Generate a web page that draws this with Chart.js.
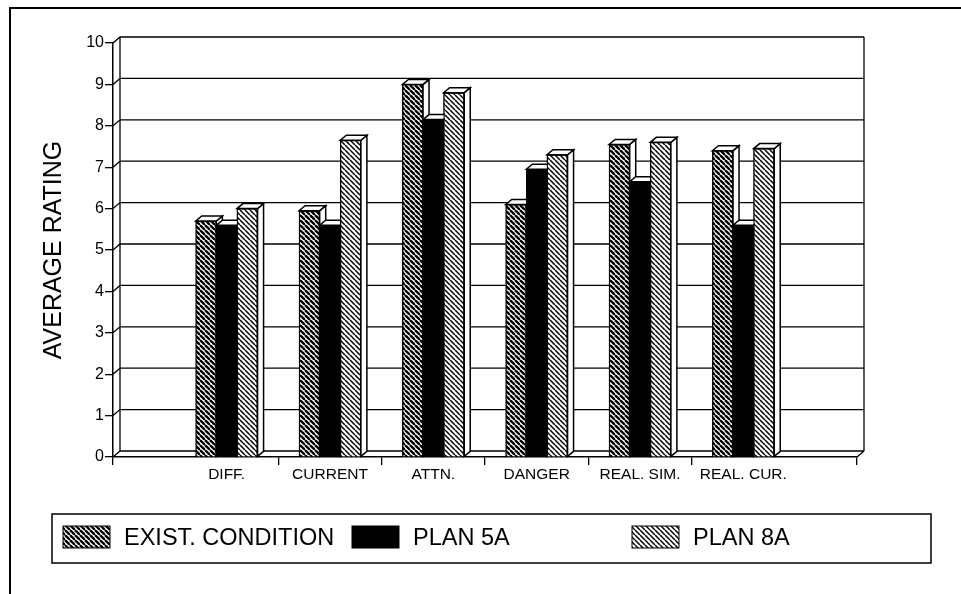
<!DOCTYPE html>
<html>
<head>
<meta charset="utf-8">
<script src="https://cdn.jsdelivr.net/npm/chart.js@4.4.1/dist/chart.umd.min.js"></script>
<style>
  html, body { margin: 0; padding: 0; background: #fff; }
  #wrap { position: relative; width: 961px; height: 594px; }
</style>
</head>
<body>
<div id="wrap"><canvas id="c" width="961" height="594"></canvas></div>
<script>
// Data (average rating per measure)
const categories = ['DIFF.', 'CURRENT', 'ATTN.', 'DANGER', 'REAL. SIM.', 'REAL. CUR.'];
const existCondition = [5.7, 5.95, 9.0, 6.1, 7.55, 7.4];
const plan5A = [5.6, 5.6, 8.15, 6.95, 6.65, 5.6];
const plan8A = [6.0, 7.65, 8.8, 7.3, 7.6, 7.45];
const seriesNames = ['EXIST. CONDITION', 'PLAN 5A', 'PLAN 8A'];
const yTicks = [0, 1, 2, 3, 4, 5, 6, 7, 8, 9, 10];

const INK = '#000';
const FONT = "'Liberation Sans', Arial, Helvetica, sans-serif";
const WALL = { dx: 7, dy: 6 };     // back-wall offset of the fake 3D box
const BAR = { dx: 6, dy: 5 };      // depth of each bar

// diagonal "\" hatching tile
function hatch(lineW, period = 5) {
  const t = document.createElement('canvas');
  t.width = period; t.height = period;
  const c = t.getContext('2d');
  c.fillStyle = '#fff'; c.fillRect(0, 0, period, period);
  c.strokeStyle = '#000'; c.lineWidth = lineW;
  for (let k = -1; k <= 1; k++) {
    c.beginPath(); c.moveTo(k * period, 0); c.lineTo(k * period + period, period); c.stroke();
  }
  return document.getElementById('c').getContext('2d').createPattern(t, 'repeat');
}
const fills = [hatch(2.3), '#000', hatch(1.5)];

// tick positions on the x axis: the outer box edges plus the gaps between groups
const X_MIN = -1.1, X_MAX = 6.1;
const xTickMarks = [X_MIN, 0.5, 1.5, 2.5, 3.5, 4.5, X_MAX];

const toPts = arr => arr.map((v, i) => ({ x: i, y: v }));

// ── back wall, floor and grid drawn in pseudo 3D ─────────────────────────────
const wallPlugin = {
  id: 'wall',
  beforeDatasetsDraw(chart) {
    const { ctx, chartArea: a, scales: { y } } = chart;
    ctx.save();
    // outer frame of the figure (top and left edges only, like the scan)
    ctx.strokeStyle = INK; ctx.lineWidth = 2;
    ctx.beginPath(); ctx.moveTo(961, 8); ctx.lineTo(10, 8); ctx.lineTo(10, 594); ctx.stroke();

    ctx.lineWidth = 1.3;
    const top = y.getPixelForValue(10) - WALL.dy, bot = y.getPixelForValue(0) - WALL.dy;
    const L = a.left + WALL.dx, R = a.right + WALL.dx;
    ctx.beginPath();
    yTicks.forEach(v => {
      const py = y.getPixelForValue(v);
      ctx.moveTo(a.left, py); ctx.lineTo(L, py - WALL.dy);      // little slant from the axis
      ctx.lineTo(R, py - WALL.dy);                              // grid line on the back wall
    });
    ctx.moveTo(L, top); ctx.lineTo(L, bot);
    ctx.moveTo(R, top); ctx.lineTo(R, bot);
    ctx.moveTo(a.right, a.bottom); ctx.lineTo(R, bot);          // floor's right edge
    ctx.stroke();
    ctx.restore();
  },
  // Chart.js paints datasets last-to-first; repaint left-to-right so each bar's
  // side face ends up behind its right-hand neighbour.
  afterDatasetsDraw(chart) {
    const { ctx } = chart;
    ctx.save();
    chart.data.datasets.forEach((_, di) => {
      chart.getDatasetMeta(di).data.forEach(el => {
        el.draw(ctx);
        const L = el.x - el.width / 2, R = el.x + el.width / 2, T = el.y, B = el.base;
        ctx.strokeStyle = INK; ctx.lineWidth = 1.5; ctx.lineJoin = 'miter'; ctx.fillStyle = '#fff';
        ctx.beginPath();
        ctx.moveTo(R, T); ctx.lineTo(R + BAR.dx, T - BAR.dy); ctx.lineTo(R + BAR.dx, B - BAR.dy); ctx.lineTo(R, B); ctx.closePath();
        ctx.fill(); ctx.stroke();
        ctx.beginPath();
        ctx.moveTo(L, T); ctx.lineTo(R, T); ctx.lineTo(R + BAR.dx, T - BAR.dy); ctx.lineTo(L + BAR.dx, T - BAR.dy); ctx.closePath();
        ctx.fill(); ctx.stroke();
      });
    });
    ctx.restore();
  },
};

// ── boxed legend across the bottom ───────────────────────────────────────────
const legendPlugin = {
  id: 'boxLegend',
  afterDraw(chart) {
    const { ctx } = chart;
    const slots = [63, 352, 632];
    ctx.save();
    ctx.strokeStyle = INK; ctx.lineWidth = 1.5;
    ctx.strokeRect(52, 514, 879, 49);
    ctx.font = `23.5px ${FONT}`; ctx.fillStyle = INK; ctx.textBaseline = 'alphabetic';
    chart.data.datasets.forEach((ds, i) => {
      const x = slots[i];
      ctx.fillStyle = ds.backgroundColor; ctx.fillRect(x, 526, 47, 22);
      ctx.lineWidth = 1; ctx.strokeRect(x, 526, 47, 22);
      ctx.fillStyle = INK; ctx.fillText(ds.label, x + 61, 545);
    });
    ctx.restore();
  },
};

new Chart(document.getElementById('c'), {
  type: 'bar',
  data: {
    datasets: [existCondition, plan5A, plan8A].map((vals, i) => ({
      label: seriesNames[i],
      data: toPts(vals),
      backgroundColor: fills[i],
      borderColor: INK, borderWidth: 1.3,
      barThickness: 20.6,
    })),
  },
  options: {
    responsive: false, animation: false, events: [],
    layout: { padding: { left: 0, right: 104, top: 43, bottom: 107 } },
    plugins: { legend: { display: false }, tooltip: { enabled: false } },
    scales: {
      x: {
        type: 'linear', min: X_MIN, max: X_MAX, offset: false,
        afterBuildTicks: s => { s.ticks = xTickMarks.concat(categories.map((_, i) => i)).sort((a, b) => a - b).map(v => ({ value: v })); },
        afterFit: s => { s.height = 30; },
        ticks: {
          autoSkip: false, maxRotation: 0, padding: 0, color: INK,
          font: { family: FONT, size: 15.5 },
          callback: v => (Number.isInteger(v) && categories[v] !== undefined ? categories[v] : ''),
        },
        grid: {
          offset: false, drawOnChartArea: false, tickLength: 8, lineWidth: 1.3,
          tickColor: c => (c.tick && Number.isInteger(c.tick.value) ? 'rgba(0,0,0,0)' : INK),
        },
        border: { display: true, color: INK, width: 1.5 },
      },
      y: {
        min: 0, max: 10,
        afterBuildTicks: s => { s.ticks = yTicks.map(v => ({ value: v })); },
        afterFit: s => { s.width = 113; },
        ticks: { padding: 1, color: INK, font: { family: FONT, size: 16 } },
        grid: { drawOnChartArea: false, tickLength: 8, color: INK, lineWidth: 1.3 },
        border: { display: true, color: INK, width: 1.5 },
        title: { display: true, text: 'AVERAGE RATING', color: INK, font: { family: FONT, size: 25 }, padding: { top: 39 } },
      },
    },
  },
  plugins: [wallPlugin, legendPlugin],
});
</script>
</body>
</html>
